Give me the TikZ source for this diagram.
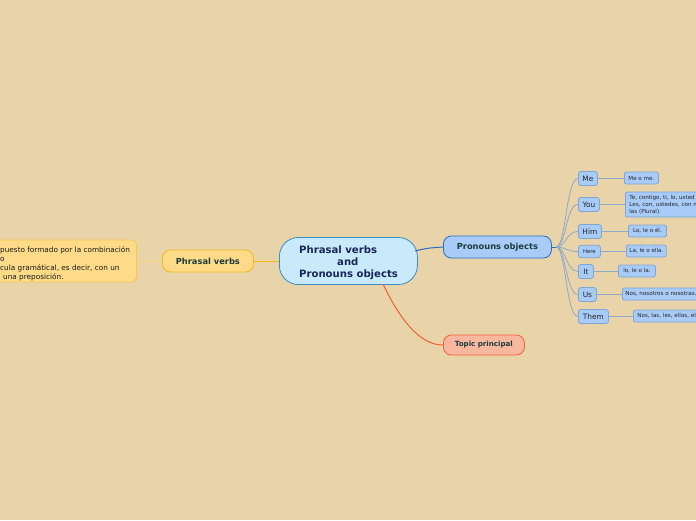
\documentclass[tikz,border=0pt]{standalone}
\usepackage{fontspec}
\setmainfont{DejaVu Sans}
\definecolor{bg}{HTML}{E9D3A8}
\definecolor{cfill}{HTML}{C8EAFB}
\definecolor{cdraw}{HTML}{3A8CC4}
\definecolor{ctext}{HTML}{1A2658}
\definecolor{pfill}{HTML}{A8CBF7}
\definecolor{pdraw}{HTML}{2A6CC4}
\definecolor{gtext}{HTML}{1C3C3C}
\definecolor{yfill}{HTML}{FDDB88}
\definecolor{ydraw}{HTML}{F5B81E}
\definecolor{ydraw2}{HTML}{F7C850}
\definecolor{rfill}{HTML}{F8B8A0}
\definecolor{rdraw}{HTML}{F06038}
\definecolor{lfill}{HTML}{A8CBF7}
\definecolor{ldraw}{HTML}{7FA6D6}
\definecolor{lline}{HTML}{8FA9C8}
\tikzset{
  box/.style={draw, line width=0.8pt, inner sep=0pt, anchor=west},
  leafbox/.style={box, fill=lfill, draw=ldraw, rounded corners=2.5pt, font=\fontsize{7.4}{8}\selectfont, text=black!85},
  tinybox/.style={box, fill=lfill, draw=ldraw, rounded corners=2pt, font=\fontsize{5.6}{6.8}\selectfont, text=black!85, align=left, inner xsep=3pt},
  leafline/.style={draw=lline, line width=0.8pt},
}
\begin{document}
\begin{tikzpicture}[x=1pt,y=-1pt]
\useasboundingbox[fill=bg] (0,0) rectangle (696,520);
% main nodes
\node[box, fill=cfill, draw=cdraw, rounded corners=19pt, minimum width=138pt, minimum height=47pt] (c) at (279,261) {};
\node[anchor=west, inner sep=0pt, text=ctext, font=\bfseries\fontsize{10.1}{12}\selectfont, align=left]
  (ct) at (299,263) {Phrasal verbs\\\hspace*{38pt}and\\Pronouns objects};
\node[box, fill=pfill, draw=pdraw, rounded corners=8pt, minimum width=108pt, minimum height=22pt,
  text=gtext, font=\bfseries\fontsize{8.3}{9}\selectfont] (p) at (443,247) {Pronouns objects};
\node[box, fill=yfill, draw=ydraw, rounded corners=8pt, minimum width=91pt, minimum height=22pt,
  text=gtext, font=\bfseries\fontsize{8.3}{9}\selectfont] (pv) at (162,261) {Phrasal verbs};
\node[box, fill=rfill, draw=rdraw, rounded corners=8pt, minimum width=81pt, minimum height=20pt,
  text=gtext, font=\bfseries\fontsize{7.1}{8}\selectfont] (t) at (443,345) {Topic principal};
\node[box, fill=yfill, draw=ydraw2, rounded corners=5pt, minimum width=150pt, minimum height=42pt,
  anchor=east] (d) at (137,261) {};
\node[anchor=west, inner sep=0pt, text=black!90, font=\fontsize{7.3}{9}\selectfont, align=left]
  (dt) at (-13,263.5)
  {\hspace*{13pt}puesto formado por la combinación\\\hspace*{13pt}o\\\hspace*{13pt}cula gramátical, es decir, con un\\\hspace*{16pt}una preposición.};
% main connectors
\draw[ydraw, line width=0.9pt] (c.west) -- (pv.east);
\draw[ydraw2!70, line width=0.6pt] (pv.west) -- (d.east);
\draw[pdraw, line width=1pt] (415,251) .. controls (428,248) .. (p.west);
\draw[rdraw, line width=1pt] (383,284) .. controls (405,330) and (425,345) .. (t.west);
% second level
\node[leafbox, minimum width=19pt, minimum height=14pt] (me) at (578,178.5) {Me};
\node[leafbox, minimum width=21pt, minimum height=14pt] (you) at (578,204.5) {You};
\node[leafbox, minimum width=23pt, minimum height=14pt] (him) at (578,231.5) {Him};
\node[leafbox, minimum width=22pt, minimum height=12.5pt, font=\fontsize{5.4}{6}\selectfont] (here) at (578,251.5) {Here};
\node[leafbox, minimum width=15pt, minimum height=14pt] (it) at (578,271.5) {It};
\node[leafbox, minimum width=18pt, minimum height=14pt] (us) at (578,294.5) {Us};
\node[leafbox, minimum width=30pt, minimum height=14pt] (them) at (578,316.5) {Them};
\coordinate (hub) at (556,247);
\draw[pdraw, line width=1pt] (p.east) -- (hub);
\foreach \n in {me,you,him,here,it,us,them}{
  \draw[leafline] (hub) .. controls (566,247) and (566,0|-\n.west) .. (\n.west);
}
% third level
\node[tinybox, minimum width=34pt, minimum height=12pt] (me2) at (624,178) {Me o me.};
\node[tinybox, minimum height=25pt, inner xsep=4pt] (you2) at (625,204.5)
  {Te, contigo, ti, lo, usted\\Les, con, ustedes, con n\\las (Plural).};
\node[tinybox, minimum width=38pt, minimum height=12pt] (him2) at (628,231) {Lo, le o él.};
\node[tinybox, minimum width=37pt, minimum height=12pt] (here2) at (626,251) {La, le o ella.};
\node[tinybox, minimum width=37pt, minimum height=12pt] (it2) at (618,271) {lo, le o la.};
\node[tinybox, minimum width=76pt, minimum height=12pt] (us2) at (622,294) {Nos, nosotros o nosotras.};
\node[tinybox, minimum height=12pt, inner xsep=4pt] (them2) at (633,316) {Nos, las, les, ellos, el};
\foreach \a/\b in {me/me2,you/you2,him/him2,here/here2,it/it2,us/us2,them/them2}{
  \draw[leafline] (\a.east) -- (\a.east -| \b.west);
}
\end{tikzpicture}
\end{document}
